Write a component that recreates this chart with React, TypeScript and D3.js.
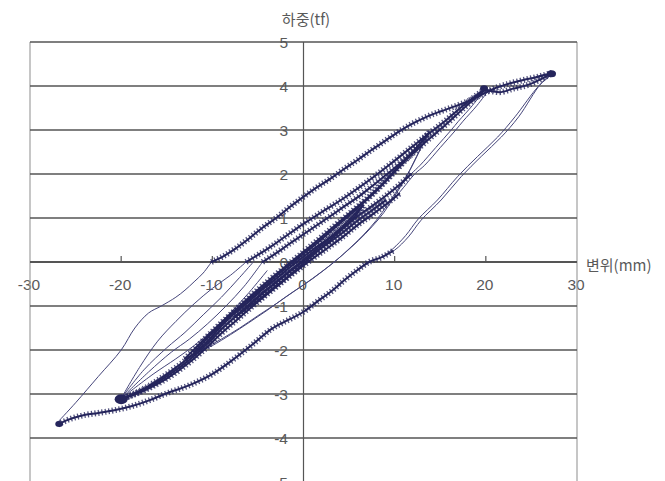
import React from 'react';
import * as d3 from 'd3';

type P = [number, number];

const xTicks = [-30, -20, -10, 0, 10, 20, 30];
const xTickLabels = ['-30', '-20', '-10', '0', '10', '20', '30'];
const yTicks = [5, 4, 3, 2, 1, 0, -1, -2, -3, -4, -5];
const yTickLabels = ['5', '4', '3', '2', '1', '0', '-1', '-2', '-3', '-4', '-5'];

// outer cycle (about 27 mm)
const outerUpper: P[] = [[-10.1, 0], [-8.8, 0.13], [-7.5, 0.3], [-6, 0.53], [-4.5, 0.78], [-3, 1.0], [-1.5, 1.25], [0, 1.48], [1.5, 1.7], [3, 1.9], [4.5, 2.12], [6, 2.33], [7.5, 2.55], [9, 2.76], [10.5, 2.97], [12, 3.15], [13.5, 3.3], [15, 3.42], [16.5, 3.53], [18, 3.65], [19.5, 3.8], [21, 3.95], [22.5, 4.05], [24, 4.13], [25.5, 4.2], [27.3, 4.3]];
const outerUnloadA: P[] = [[27.4, 4.3], [26.1, 4.07], [23.6, 3.3], [21.7, 2.84], [19.5, 2.4], [17.3, 1.94], [15.1, 1.41], [12.9, 0.95], [11.5, 0.57], [10, 0.27], [8.6, 0.11]];
const outerUnloadB: P[] = [[27.2, 4.25], [25.8, 4.0], [23.2, 3.3], [21.3, 2.84], [19.1, 2.4], [16.9, 1.94], [14.7, 1.41], [12.6, 0.98], [11.2, 0.6], [9.8, 0.3], [8.6, 0.11]];
const outerLower: P[] = [[9.8, 0.25], [8.6, 0.11], [7.2, 0.0], [6, -0.17], [4.5, -0.41], [3.1, -0.66], [1.5, -0.9], [0.1, -1.12], [-1.5, -1.3], [-3.5, -1.52], [-5.5, -1.86], [-7.6, -2.2], [-10.1, -2.56], [-12.5, -2.8], [-15.2, -3.0], [-17, -3.15], [-18.9, -3.28], [-20.5, -3.36], [-22.5, -3.43], [-24.5, -3.5], [-26, -3.6], [-27, -3.7]];
const outerReload: P[] = [[-27, -3.65], [-25, -3.2], [-22.5, -2.6], [-20, -2.0], [-18.5, -1.5], [-17, -1.16], [-15.6, -1.0], [-14, -0.8], [-13, -0.64], [-12, -0.45], [-11, -0.25], [-10.1, 0]];
const topRope: P[] = [[20, 3.92], [21.5, 3.86], [23, 3.94], [24.7, 4.03], [26, 4.15], [27.3, 4.3]];

// 20 mm cycles
const bandA: P[] = [[-6.3, 0], [-5, 0.16], [-3.5, 0.36], [-2, 0.58], [-0.5, 0.8], [1, 1.0], [2.5, 1.2], [4.2, 1.42], [6, 1.68], [7.8, 1.95], [9.5, 2.22], [11.8, 2.6], [13.5, 2.88], [15.5, 3.2], [17.5, 3.55], [20, 3.95]];
const bandA2: P[] = [[-4.5, 0], [-3, 0.2], [-1.5, 0.42], [0, 0.63], [1.5, 0.84], [3, 1.05], [4.5, 1.27], [6, 1.48], [7.5, 1.72], [9, 1.97], [10.5, 2.22], [12, 2.47], [13.8, 2.8], [15.5, 3.1], [17.5, 3.48], [20, 3.93]];
const unload20A: P[] = [[20, 3.95], [18.5, 3.55], [17, 3.2], [16.2, 3.0], [14.5, 2.6], [12.8, 2.2], [11.8, 2.0], [10.5, 1.7]];
const unload20B: P[] = [[20.3, 3.9], [19, 3.55], [17.5, 3.2], [16.7, 3.0], [15, 2.6], [13.3, 2.2], [12.2, 2.0], [11, 1.7], [9.8, 1.4]];
const lower20: P[] = [[11.8, 2.0], [10.5, 1.75], [9, 1.5], [7.5, 1.27], [6, 1.05], [4.5, 0.8], [3, 0.57], [1.5, 0.35], [0, 0.12], [-1.5, -0.12], [-3, -0.38], [-4.5, -0.62], [-6, -0.9], [-7.5, -1.15], [-9, -1.45], [-10.5, -1.8], [-12.6, -2.18], [-14, -2.4], [-15.5, -2.62], [-17.5, -2.88], [-20, -3.12]];
const lower20b: P[] = [[10.5, 1.55], [9, 1.3], [7.5, 1.07], [6, 0.85], [4.5, 0.6], [3, 0.37], [1.5, 0.15], [0, -0.08], [-1.5, -0.32], [-3, -0.57], [-4.5, -0.82], [-6, -1.08], [-7.5, -1.35], [-9, -1.62], [-10.5, -1.92], [-12.5, -2.28], [-15, -2.65], [-17.5, -2.92], [-20, -3.12]];
const lower20c: P[] = [[9, 1.4], [7.5, 1.17], [6, 0.95], [4.5, 0.7], [3, 0.47], [1.5, 0.25], [0, 0.02], [-1.5, -0.22], [-3, -0.47], [-4.5, -0.72], [-6, -0.99], [-7.5, -1.25], [-9, -1.53], [-10.5, -1.85], [-12.5, -2.22], [-15, -2.6], [-17.5, -2.9], [-20, -3.12]];
const fan1: P[] = [[-20, -3.1], [-18, -2.4], [-16, -1.8], [-14, -1.35], [-12, -0.95], [-10, -0.6], [-8, -0.3], [-6.3, 0]];
const fan2: P[] = [[-20, -3.1], [-17.5, -2.45], [-15, -1.95], [-13, -1.6], [-11, -1.2], [-9, -0.8], [-7, -0.35], [-5.5, 0]];
const fan3: P[] = [[-20, -3.1], [-17, -2.5], [-14.5, -2.05], [-12.5, -1.75], [-10.5, -1.4], [-8.5, -1.0], [-6.5, -0.55], [-4.5, 0]];
const fan4: P[] = [[-20, -3.1], [-16.5, -2.55], [-14, -2.2], [-12, -1.9], [-10, -1.55], [-8, -1.15], [-6, -0.7], [-4, -0.2]];

// 13 mm cycles
const upper13: P[] = [[-13, -2.2], [-11, -1.78], [-9, -1.38], [-7, -1.0], [-5, -0.63], [-3, -0.28], [-1, 0.06], [1, 0.4], [3, 0.75], [5, 1.1], [7, 1.45], [9, 1.85], [11, 2.3], [12.5, 2.62], [13.8, 2.95]];
const upper13b: P[] = [[-12, -2.05], [-10, -1.62], [-8, -1.22], [-6, -0.85], [-4, -0.5], [-2, -0.15], [0, 0.18], [2, 0.52], [4, 0.88], [6, 1.24], [8, 1.62], [10, 2.05], [12, 2.5], [13.6, 2.9]];
const lower13: P[] = [[13.8, 2.95], [12.8, 2.55], [11.7, 2.1], [10.5, 1.7], [9.2, 1.3], [8, 0.95], [6.5, 0.6], [5, 0.3], [3.5, 0.02], [2, -0.22], [0, -0.52], [-2, -0.8], [-4, -1.1], [-6, -1.38], [-8, -1.65], [-10, -1.9], [-11.5, -2.05], [-13, -2.2]];
const lower13b: P[] = [[13.6, 2.9], [12.4, 2.4], [11.2, 1.9], [10, 1.5], [8.8, 1.12], [7.5, 0.8], [6, 0.48], [4.5, 0.2], [3, -0.06], [1, -0.38], [-1, -0.66], [-3, -0.95], [-5, -1.22], [-7, -1.5], [-9, -1.75], [-11, -1.98], [-13, -2.2]];

// 7 mm cycles
const upper7: P[] = [[-7.5, -1.25], [-6, -0.97], [-4.5, -0.7], [-3, -0.45], [-1.5, -0.2], [0, 0.05], [1.5, 0.3], [3, 0.57], [4.5, 0.85], [6.5, 1.28]];
const lower7: P[] = [[6.5, 1.28], [5.5, 1.0], [4, 0.7], [2.5, 0.42], [1, 0.15], [-0.5, -0.12], [-2, -0.38], [-3.5, -0.62], [-5, -0.87], [-6.5, -1.1], [-7.5, -1.25]];

const noisyBranches = [outerUpper, outerLower, topRope, bandA, bandA2, lower20, lower20b, lower20c, upper13, upper13b, upper7, lower7];
const thinBranches = [outerUnloadA, outerUnloadB, outerReload, unload20A, unload20B, fan1, fan2, fan3, fan4, lower13, lower13b];
const peaks: P[] = [[-20, -3.12], [27.2, 4.28], [-26.8, -3.68], [19.8, 3.95]];
const peakSizes = [5, 3.5, 3, 3];

const W = 665;
const H = 481;
const ink = '#25255c';

export default function App() {
  const x = d3.scaleLinear().domain([-30, 30]).range([30, 577]);
  const y = d3.scaleLinear().domain([-5, 5]).range([482, 42]);
  const line = d3.line<P>().x((d) => x(d[0])).y((d) => y(d[1])).curve(d3.curveMonotoneX);
  const thinLine = d3.line<P>().x((d) => x(d[0])).y((d) => y(d[1])).curve(d3.curveCatmullRom);

  return (
    <div style={{ position: 'absolute', left: 0, top: 0 }}>
      <svg width={W} height={H} style={{ display: 'block', background: '#fff' }}>
        {/* tick labels sit under the grid, as in the scan */}
        <g fill="#5a5a5a" fontFamily="'Liberation Sans', Arial, sans-serif" fontSize={15.5}>
          {yTicks.map((t, i) => (
            <text key={'yl' + i} x={288} y={y(t)} textAnchor="end" dominantBaseline="central">
              {yTickLabels[i]}
            </text>
          ))}
          {xTicks.map((t, i) => (
            <text key={'xl' + i} x={x(t) - 1} y={290} textAnchor="middle">
              {xTickLabels[i]}
            </text>
          ))}
        </g>

        {/* frame */}
        <line x1={x(-30)} x2={x(-30)} y1={y(5)} y2={H} stroke="#a0a0a0" strokeWidth={1.2} />
        <line x1={x(30)} x2={x(30)} y1={y(5)} y2={H} stroke="#a0a0a0" strokeWidth={1.2} />

        {/* horizontal grid */}
        {yTicks.map((t, i) => (
          <line key={'g' + i} x1={x(-30)} x2={x(30)} y1={y(t)} y2={y(t)} stroke="#555" strokeWidth={t === 0 ? 1.8 : 1.6} />
        ))}

        {/* vertical axis and x ticks */}
        <line x1={x(0)} x2={x(0)} y1={y(5)} y2={H} stroke="#555" strokeWidth={1.2} />
        {xTicks.filter((t) => t !== 0 && Math.abs(t) !== 30).map((t) => (
          <line key={'xt' + t} x1={x(t)} x2={x(t)} y1={y(0) - 6} y2={y(0)} stroke="#555" strokeWidth={1.2} />
        ))}

        {/* hysteresis data */}
        <g fill="none" strokeLinejoin="round" strokeLinecap="round">
          {thinBranches.map((b, i) => (
            <path key={'t' + i} d={thinLine(b) ?? ''} stroke="#45457a" strokeWidth={1} />
          ))}
          {noisyBranches.map((b, i) => (
            <g key={'n' + i}>
              <path d={line(b) ?? ''} stroke={ink} strokeWidth={2} />
              <path d={line(b) ?? ''} stroke={ink} strokeWidth={6} strokeDasharray="1.3 2.2" strokeLinecap="butt" opacity={0.8} />
            </g>
          ))}
        </g>
        {peaks.map((p, i) => (
          <ellipse key={'p' + i} cx={x(p[0])} cy={y(p[1])} rx={peakSizes[i] * 1.3} ry={peakSizes[i]} fill={ink} />
        ))}

        {/* axis titles */}
        <g fill="#5a5a5a" fontFamily="'Noto Sans CJK KR', sans-serif" fontSize={15}>
          <text x={306} y={25} textAnchor="middle">하중(tf)</text>
          <text x={586} y={271}>변위(mm)</text>
        </g>
      </svg>
    </div>
  );
}
